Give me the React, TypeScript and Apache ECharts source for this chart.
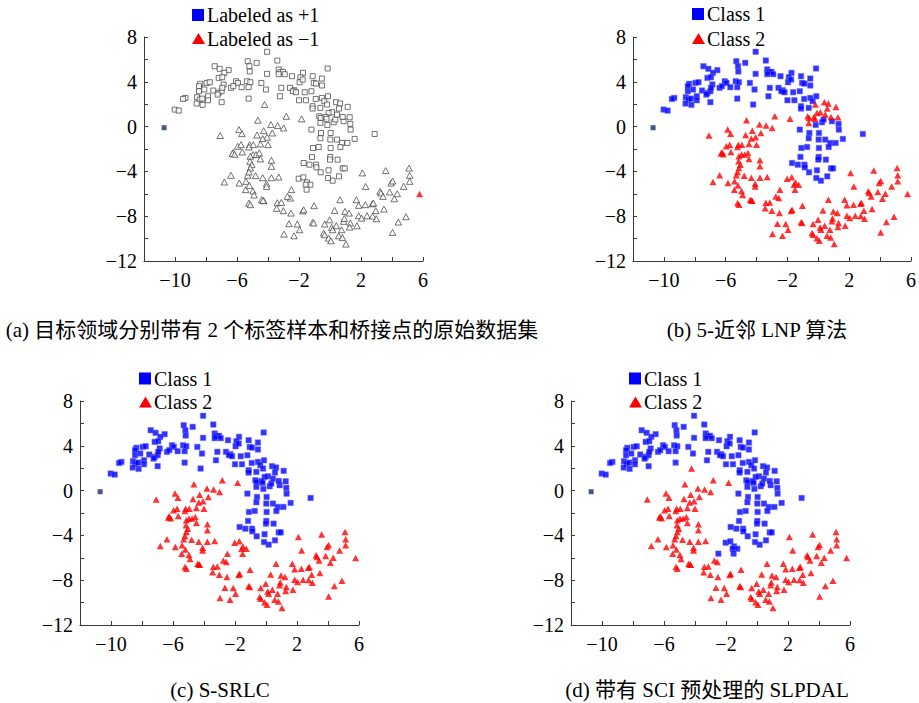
import React, { useEffect, useRef } from "react";
import * as echarts from "echarts";

// ---- Data ----
// Upper moon points that every method labels as class 1
const upperCore: [number, number][] = [
  [-4.06, 6.68], [-3.40, 5.90], [-5.31, 5.84], [-4.73, 5.69], [-5.20, 5.39], [-7.44, 5.39], [-7.12, 5.16], [-6.54, 5.04], [-6.82, 4.80], [-5.18, 4.92],
  [-4.06, 4.71], [-3.31, 5.10], [-3.20, 4.86], [-3.03, 4.89], [-2.92, 4.68], [-3.31, 4.68], [-2.45, 4.50], [-1.74, 4.80], [-1.91, 4.41], [-1.12, 4.50],
  [-0.52, 4.29], [-0.15, 5.19], [-7.96, 3.90], [-8.37, 3.82], [-8.45, 3.61], [-7.76, 3.96], [-7.18, 4.35], [-6.95, 4.41], [-6.06, 4.05], [-5.94, 3.90],
  [-5.35, 4.05], [-5.14, 3.96], [-4.43, 3.90], [-6.86, 3.76], [-6.39, 3.46], [-6.24, 3.61], [-5.70, 3.52], [-5.25, 3.52], [-4.13, 3.31], [-3.14, 3.46],
  [-2.58, 3.46], [-2.30, 3.25], [-1.96, 3.96], [-1.76, 4.20], [-1.05, 3.90], [-0.90, 3.84], [-0.52, 3.67], [-8.45, 3.16], [-8.11, 3.31], [-7.53, 3.22],
  [-7.18, 3.01], [-6.99, 3.16], [-6.95, 3.46], [-9.33, 2.56], [-9.48, 2.47], [-8.58, 2.62], [-8.41, 2.41], [-8.24, 2.50], [-7.87, 2.71], [-7.87, 2.35],
  [-8.60, 2.06], [-8.22, 1.94], [-6.99, 2.18], [-7.25, 2.86], [-5.25, 2.50], [-3.23, 2.71], [-2.39, 3.16], [-2.19, 3.07], [-2.00, 2.35], [-1.63, 3.07],
  [-1.20, 3.16], [-1.55, 2.35], [-0.92, 2.47], [-0.52, 2.56], [-0.37, 2.27], [-0.13, 2.71], [-10.02, 1.52], [-9.76, 1.43], [-1.12, 1.82], [-1.12, 1.61],
  [-0.62, 1.67],
  [-0.17, 0.15], [0.24, 0.39], [0.34, 0.63], [0.88, 0.48], [1.31, 0.24], [1.33, -0.27], [2.88, -0.66], [-1.20, -0.27], [-0.58, -0.57], [0.04, -0.57],
  [0.45, -1.16], [0.77, -1.46], [1.12, -1.46], [1.59, -1.10], [0.02, -1.16], [-0.62, -1.04], [-1.10, -1.91], [-0.73, -1.82], [0.04, -1.91], [0.67, -1.82],
  [-1.16, -2.71], [0.02, -2.71], [0.49, -2.95], [-1.70, -3.25], [-1.33, -3.40], [-0.90, -3.40], [-0.88, -3.64], [-0.60, -4.08], [0.82, -3.73], [0.95, -3.73],
  [-0.09, -3.90], [0.00, -2.95], [0.17, -4.83], [-0.13, -4.59], [0.58, -4.44],
];
// Upper moon points in the middle-right bend (class 2 in (b))
const upperMid: [number, number][] = [
  [-0.19, 1.97], [0.39, 2.18], [0.65, 2.06], [0.58, 1.61], [1.14, 1.76], [0.13, 1.28], [-0.09, 1.22], [0.45, 1.07],
  [0.82, 0.86], [1.27, 0.83], [-0.69, 0.92], [-0.60, 0.77], [-0.28, 0.86], [-0.22, 0.69], [-0.62, 0.33],
];
// Upper moon tail (class 2 in (b) and (c))
const upperTail: [number, number][] = [
  [-2.02, -4.65], [-1.72, -4.53], [-1.48, -4.98], [-1.27, -5.19], [-1.57, -5.19], [-1.51, -5.63],
];
// Lower moon points labeled class 2 by every method
const lowerCore: [number, number][] = [
  [-2.82, 0.92], [-1.83, 0.69], [-4.65, 0.57], [-7.08, -0.80], [-5.87, -0.27], [-5.68, -0.63], [-4.71, -0.75], [-4.28, -0.36], [-3.81, 0.18], [-3.38, 0.09],
  [-2.99, -0.12], [-3.72, -0.57], [-4.06, -0.95], [-4.34, -1.07], [-4.00, -1.61], [-4.49, -1.55], [-5.96, -1.76], [-5.74, -1.61], [-5.18, -1.61], [-4.95, -1.61],
  [-5.23, -1.82], [-6.24, -2.30], [-6.30, -2.41], [-6.15, -2.47], [-5.66, -2.27], [-4.97, -2.50], [-5.14, -2.65], [-4.77, -2.50], [-4.56, -2.35], [-4.49, -2.89],
  [-5.16, -3.10], [-5.05, -3.40], [-3.78, -3.01], [-3.78, -3.55], [-6.39, -4.35], [-6.82, -4.95], [-5.85, -5.04], [-5.31, -4.35], [-5.42, -4.89], [-5.20, -5.25],
  [-4.80, -4.38], [-4.34, -4.56], [-4.09, -5.10], [-3.78, -4.56], [-3.31, -4.50], [-4.09, -5.34], [-5.14, -3.70], [-5.23, -4.05], [-5.44, -5.63], [-4.97, -5.75],
  [-4.90, -6.11], [-4.41, -6.53], [-4.28, -6.62], [-2.56, -6.38], [-3.40, -6.80], [-3.14, -6.77], [-2.75, -6.23], [-3.01, -7.51], [-3.44, -7.30], [-2.52, -7.72],
  [-1.76, -7.54], [-1.70, -7.42], [-1.03, -7.06], [0.65, -6.53], [0.30, -7.48], [0.97, -7.57], [1.23, -7.72], [1.70, -6.53], [1.85, -7.03], [2.28, -6.97],
  [2.73, -6.89], [2.80, -6.83], [2.95, -7.51], [3.48, -7.36], [2.30, -5.34], [-5.23, -6.83], [-5.14, -6.97], [-4.32, -6.59], [2.09, -4.14], [3.59, -3.93],
  [5.10, -3.70], [5.14, -4.35], [5.14, -4.89], [3.94, -5.04], [4.04, -4.86], [4.75, -5.34], [3.23, -5.78], [3.29, -5.93], [3.85, -5.84], [4.34, -5.99],
  [4.15, -6.44], [3.42, -6.23], [-2.65, -8.67], [-2.11, -8.70], [-1.96, -9.21], [-1.12, -8.55], [-1.05, -8.61], [-2.97, -9.60], [-2.32, -9.75], [-0.34, -8.70],
  [-0.41, -9.51], [-0.02, -8.32], [0.11, -9.00], [0.17, -9.21], [0.41, -8.85], [0.75, -9.21], [0.88, -8.46], [0.92, -8.20], [1.31, -8.61], [1.27, -8.97],
  [1.74, -8.85], [1.85, -7.96], [2.04, -8.17], [2.39, -7.96], [2.75, -7.99], [2.99, -8.23], [4.41, -8.52], [4.90, -8.05], [4.04, -9.45], [-0.34, -9.66],
  [-0.09, -9.96], [0.06, -10.19], [0.56, -9.75], [0.80, -9.90], [1.03, -10.49],
];
// Lower moon tip of the left arm (class 1 in (b) and (c))
const lowerArmTip: [number, number][] = [[-4.22, 1.97]];
// Lower moon stray point (class 1 in (d))
const lowerStray: [number, number][] = [[-2.49, -5.63]];
// The two labeled samples
const labeledPlus: [number, number][] = [[-10.7, -0.1]];
const labeledMinus: [number, number][] = [[5.78, -6.02]];

const xTickLabels = [-10, -6, -2, 2, 6];
const yTickLabels = [8, 4, 0, -4, -8, -12];

const captions = [
  "(a) 目标领域分别带有 2 个标签样本和桥接点的原始数据集",
  "(b) 5-近邻 LNP 算法",
  "(c) S-SRLC",
  "(d) 带有 SCI 预处理的 SLPDAL",
];
const legendA = ["Labeled as +1", "Labeled as \u22121"];
const legendClass = ["Class 1", "Class 2"];

const FONT = '"Liberation Serif", "Times New Roman", serif';
const CAPFONT = '"Liberation Serif", "Noto Sans CJK SC", serif';

const fmt = (v: number) => (v < 0 ? "\u2212" + Math.abs(v) : String(v));

export default function App() {
  const ref = useRef<HTMLDivElement>(null);
  useEffect(() => {
    document.body.style.margin = "0";
    if (!ref.current) return;
    const chart = echarts.init(ref.current, undefined, { renderer: "svg" });

    const grids = [
      { left: 144, top: 37, width: 279, height: 224 },
      { left: 633, top: 37, width: 279, height: 224 },
      { left: 80, top: 401, width: 279, height: 224 },
      { left: 571, top: 401, width: 279, height: 224 },
    ];
    const axisColor = "#3a3a3a";
    const xAxis = grids.map((_, i) => ({
      type: "value",
      gridIndex: i,
      min: -12,
      max: 6,
      interval: 2,
      axisLine: { show: true, onZero: false, lineStyle: { color: axisColor, width: 1 } },
      axisTick: { show: true, inside: true, length: 4, lineStyle: { color: axisColor } },
      splitLine: { show: false },
      axisLabel: {
        show: true,
        margin: 9,
        color: "#000",
        fontSize: 20,
        fontFamily: FONT,
        showMinLabel: true,
        showMaxLabel: true,
        formatter: (v: number) => (xTickLabels.includes(v) ? fmt(v) : ""),
      },
    }));
    const yAxis = grids.map((_, i) => ({
      type: "value",
      gridIndex: i,
      min: -12,
      max: 8,
      interval: 2,
      axisLine: { show: true, onZero: false, lineStyle: { color: axisColor, width: 1 } },
      axisTick: { show: true, inside: true, length: 4, lineStyle: { color: axisColor } },
      splitLine: { show: false },
      axisLabel: {
        show: true,
        margin: 7,
        color: "#000",
        fontSize: 20,
        fontFamily: FONT,
        showMinLabel: true,
        showMaxLabel: true,
        formatter: (v: number) => (yTickLabels.includes(v) ? fmt(v) : ""),
      },
    }));

    const blue = "#0000ff";
    const red = "#ff0000";
    const navy = "#1b2a6b";
    const sq = (i: number, data: [number, number][], color: string) => ({
      type: "scatter", xAxisIndex: i, yAxisIndex: i, data, symbol: "rect", symbolSize: 5.5,
      itemStyle: { color, borderColor: "#6a6aff", borderWidth: 0.6 },
    });
    const tri = (i: number, data: [number, number][], color: string) => ({
      type: "scatter", xAxisIndex: i, yAxisIndex: i, data, symbol: "triangle", symbolSize: [7, 6.5],
      itemStyle: { color },
    });

    const series: any[] = [
      // (a) original data
      {
        type: "scatter", xAxisIndex: 0, yAxisIndex: 0,
        data: [...upperCore, ...upperMid, ...upperTail], symbol: "rect", symbolSize: 5,
        itemStyle: { color: "#fff", borderColor: "#3c3c3c", borderWidth: 0.9 },
      },
      {
        type: "scatter", xAxisIndex: 0, yAxisIndex: 0,
        data: [...lowerCore, ...lowerArmTip, ...lowerStray], symbol: "triangle", symbolSize: [6.5, 6],
        itemStyle: { color: "#fff", borderColor: "#3c3c3c", borderWidth: 0.9 },
      },
      // (b) 5-NN LNP
      sq(1, [...upperCore, ...lowerArmTip], blue),
      tri(1, [...lowerCore, ...upperMid, ...upperTail, ...lowerStray], red),
      // (c) S-SRLC
      sq(2, [...upperCore, ...upperMid, ...lowerArmTip], blue),
      tri(2, [...lowerCore, ...upperTail, ...lowerStray], red),
      // (d) SLPDAL with SCI
      sq(3, [...upperCore, ...upperMid, ...upperTail, ...lowerStray], blue),
      tri(3, [...lowerCore, ...lowerArmTip], red),
    ];
    for (let i = 0; i < 4; i++) {
      series.push({
        type: "scatter", xAxisIndex: i, yAxisIndex: i, data: labeledPlus, symbol: "rect", symbolSize: 5,
        itemStyle: { color: navy },
      });
      series.push({
        type: "scatter", xAxisIndex: i, yAxisIndex: i, data: labeledMinus, symbol: "triangle", symbolSize: [7, 6.5],
        itemStyle: { color: red },
      });
    }

    const legendPos = [
      { x: 192, y1: 15, y2: 38.5, names: legendA },
      { x: 692, y1: 14, y2: 38.5, names: legendClass },
      { x: 139, y1: 378.5, y2: 402, names: legendClass },
      { x: 629, y1: 378.5, y2: 402, names: legendClass },
    ];
    const graphic: any[] = [];
    legendPos.forEach((l) => {
      graphic.push({ type: "rect", shape: { x: l.x, y: l.y1 - 6, width: 12, height: 12 }, style: { fill: blue } });
      graphic.push({
        type: "polygon",
        shape: { points: [[l.x, l.y2 + 5.5], [l.x + 6.5, l.y2 - 5.5], [l.x + 13, l.y2 + 5.5]] },
        style: { fill: red },
      });
      graphic.push({ type: "text", x: l.x + 15, y: l.y1, style: { text: l.names[0], font: `20px ${FONT}`, fill: "#000", verticalAlign: "middle", align: "left" } });
      graphic.push({ type: "text", x: l.x + 15, y: l.y2, style: { text: l.names[1], font: `20px ${FONT}`, fill: "#000", verticalAlign: "middle", align: "left" } });
    });
    const capPos = [
      { x: 272, y: 330 },
      { x: 757, y: 330 },
      { x: 220, y: 690 },
      { x: 707, y: 690 },
    ];
    capPos.forEach((c, i) => {
      graphic.push({ type: "text", x: c.x, y: c.y, style: { text: captions[i], font: `21px ${CAPFONT}`, fill: "#000", verticalAlign: "middle", align: "center" } });
    });

    chart.setOption({
      animation: false,
      backgroundColor: "#fff",
      grid: grids.map((g) => ({ ...g, containLabel: false })),
      xAxis,
      yAxis,
      series,
      graphic,
    });
    return () => chart.dispose();
  }, []);
  return <div ref={ref} style={{ width: 919, height: 703 }} />;
}
